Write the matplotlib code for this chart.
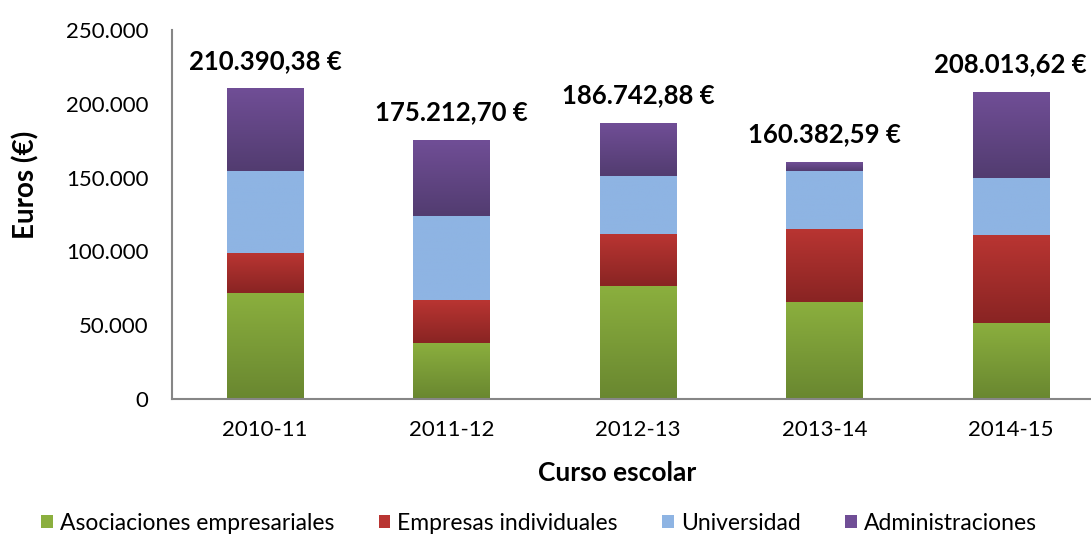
import numpy as np
import matplotlib
matplotlib.use('Agg')
from matplotlib import pyplot as plt
from matplotlib.colors import LinearSegmentedColormap
from matplotlib.patches import Patch

plt.rcParams['font.family'] = ['Lato', 'DejaVu Sans']

cursos = ['2010-11', '2011-12', '2012-13', '2013-14', '2014-15']
asociaciones = [72000, 38000, 76500, 65700, 51500]
empresas = [26700, 29100, 35100, 49500, 59600]
universidad = [56000, 56900, 39500, 39300, 38800]
administraciones = [55690, 51213, 35643, 5883, 58114]
totales = ['210.390,38 €', '175.212,70 €', '186.742,88 €', '160.382,59 €', '208.013,62 €']
series_names = ['Asociaciones empresariales', 'Empresas individuales', 'Universidad', 'Administraciones']

# (top colour, bottom colour) for each series, Excel-like vertical gradient
grads = [('#8BAF3E', '#698730'),
         ('#B93532', '#892423'),
         ('#8EB4E3', '#8EB4E3'),
         ('#704E96', '#523C70')]

fig = plt.figure(figsize=(10.91, 5.34), dpi=100)
ax = fig.add_axes([172/1091, 1-399/534, 932/1091, 369/534])

x = np.arange(len(cursos))
bottom = np.zeros(len(cursos))
data = [asociaciones, empresas, universidad, administraciones]
for vals, (ctop, cbot), name in zip(data, grads, series_names):
    bars = ax.bar(x, vals, 0.41, bottom=bottom, color=cbot, linewidth=0, label=name)
    cmap = LinearSegmentedColormap.from_list('g', [cbot, ctop])
    grad = np.linspace(0, 1, 100).reshape(-1, 1)
    for b in bars:
        x0, y0, w, h = b.get_x(), b.get_y(), b.get_width(), b.get_height()
        ax.imshow(grad, cmap=cmap, origin='lower', aspect='auto',
                  extent=(x0, x0 + w, y0, y0 + h), zorder=2)
    bottom += np.array(vals)

for xi, tot, lab in zip(x, bottom, totales):
    ax.annotate(lab, (xi, tot), xytext=(0, 20), textcoords='offset points',
                ha='center', va='center', fontsize=18.5, fontweight='bold')

ax.set_xlim(-0.5, 4.5)
ax.set_ylim(0, 250000)
ax.set_xticks(x)
ax.set_xticklabels(cursos)
ax.set_yticks(np.arange(0, 250001, 50000))
ax.set_yticklabels(['0', '50.000', '100.000', '150.000', '200.000', '250.000'])
ax.tick_params(axis='both', length=0, labelsize=16)
ax.tick_params(axis='x', pad=15)
ax.tick_params(axis='y', pad=17)
for s in ['top', 'right']:
    ax.spines[s].set_visible(False)
for s in ['left', 'bottom']:
    ax.spines[s].set_color('#868686')
    ax.spines[s].set_linewidth(1.5)

ax.set_xlabel('Curso escolar', fontsize=19, fontweight='bold', va='center')
ax.xaxis.set_label_coords((617-172)/932, (399-473)/369)
ax.set_ylabel('Euros (€)', fontsize=20, fontweight='bold', va='center')
ax.yaxis.set_label_coords((26-172)/932, (399-185)/369)

handles = [Patch(facecolor=ct, label=n) for (ct, cb), n in zip(grads, series_names)]
fig.legend(handles=handles, loc='center', ncol=4, bbox_to_anchor=(539/1091, 0.02),
           frameon=False, fontsize=16.5, handlelength=0.5, handleheight=0.5,
           handletextpad=0.3, columnspacing=1.95)

fig.savefig('out.png', dpi=100)
